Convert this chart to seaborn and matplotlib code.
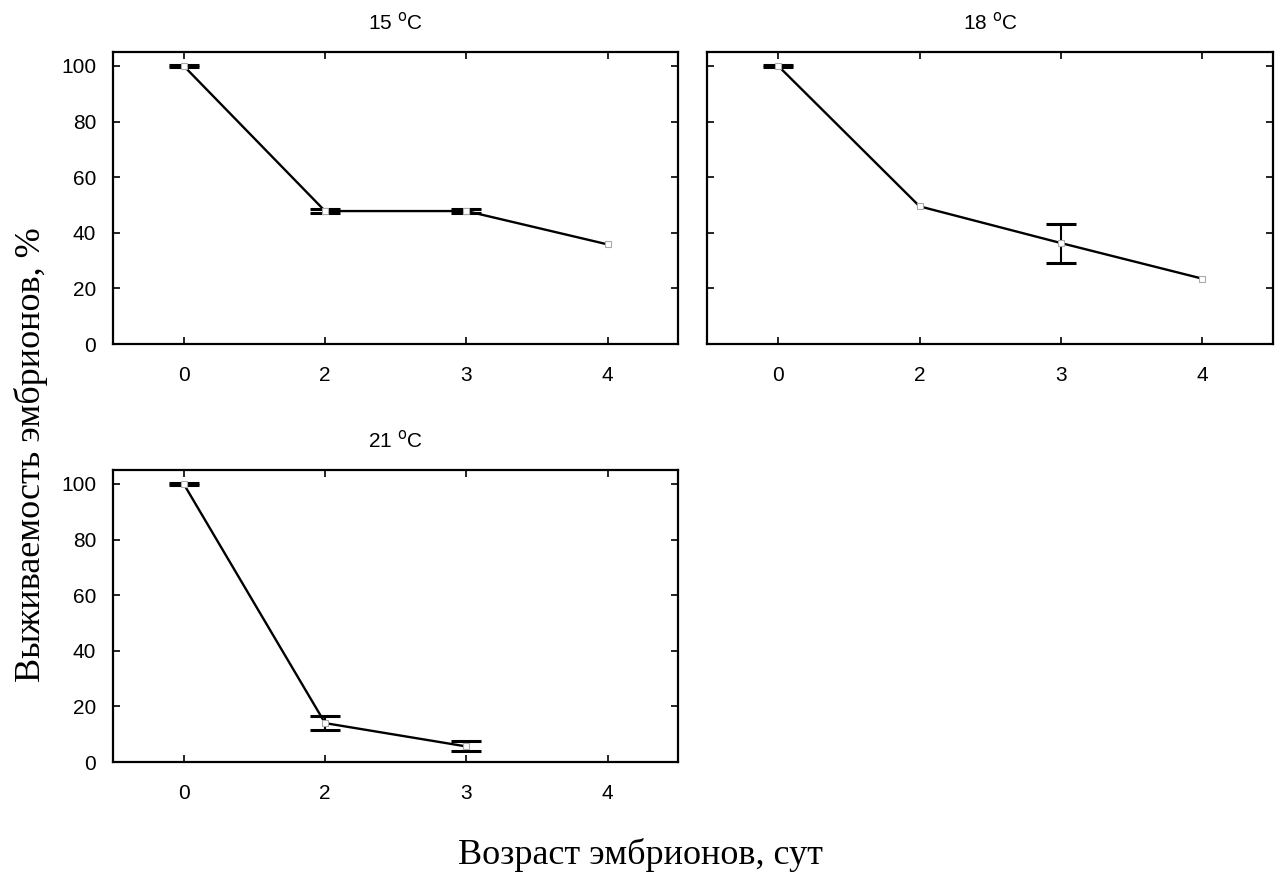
import numpy as np
import pandas as pd
import matplotlib
matplotlib.use("Agg")
import matplotlib.pyplot as plt
import seaborn as sns

# ---- data ----
days = ["0", "2", "3", "4"]
titles = ["15 $^{\\rm o}$C", "18 $^{\\rm o}$C", "21 $^{\\rm o}$C"]
surv_15 = [100.0, 47.8, 47.8, 35.8]
err_15 = [0.3, 0.8, 0.8, np.nan]
surv_18 = [100.0, 49.5, 36.3, 23.5]
err_18 = [0.3, np.nan, 7.0, np.nan]
surv_21 = [100.0, 14.0, 5.6, np.nan]
err_21 = [0.3, 2.4, 1.8, np.nan]
y_ticks = [0, 20, 40, 60, 80, 100]
ylabel = "Выживаемость эмбрионов, %"
xlabel = "Возраст эмбрионов, сут"

sns.set_theme(style="white")
plt.rcParams['font.family'] = ['Liberation Sans', 'DejaVu Sans']

fig, axes = plt.subplots(2, 2, figsize=(12.8, 8.75), dpi=100)
fig.subplots_adjust(left=0.0883, right=0.9945, top=0.9406, bottom=0.1291,
                    wspace=0.0513, hspace=0.4315)
axes[1, 1].remove()
panel_axes = [axes[0, 0], axes[0, 1], axes[1, 0]]
series = [(surv_15, err_15), (surv_18, err_18), (surv_21, err_21)]

for i, (ax, (vals, errs), title) in enumerate(zip(panel_axes, series, titles)):
    df = pd.DataFrame({"day": days, "surv": vals, "err": errs})
    d = df.dropna(subset=["surv"])
    sns.lineplot(data=d, x="day", y="surv", ax=ax, color="black",
                 linewidth=1.7, sort=False, errorbar=None)
    de = df.dropna()
    pos_e = [days.index(v) for v in de["day"]]
    ax.errorbar(pos_e, de["surv"], yerr=de["err"], fmt="none", ecolor="black",
                elinewidth=1.5, capsize=11, capthick=2.2)
    pos = [days.index(v) for v in d["day"]]
    ax.plot(pos, d["surv"], linestyle="none", marker="s", markersize=4,
            markerfacecolor="white", markeredgecolor="#aaaaaa", markeredgewidth=0.8)
    ax.set_xlim(-0.5, 3.5)
    ax.set_ylim(0, 105)
    ax.set_xticks(range(len(days)))
    ax.set_xticklabels(days)
    ax.set_yticks(y_ticks)
    ax.set_xlabel("")
    ax.set_ylabel("")
    ax.tick_params(direction="in", length=5, width=1.2, top=True, right=True,
                   left=True, bottom=True, labelsize=15, colors="black")
    ax.tick_params(axis="x", pad=16)
    ax.tick_params(axis="y", pad=12)
    if i == 1:
        ax.set_yticklabels([])
    for s in ax.spines.values():
        s.set_color("black")
        s.set_linewidth(1.6)
    ax.set_title(title, fontsize=15, pad=16, color="black")

fig.text(0.024, 0.48, ylabel, rotation=90, ha="center", va="center",
         fontsize=26, family="Liberation Serif", color="black")
fig.text(0.5, 0.023, xlabel, ha="center", va="center",
         fontsize=26, family="Liberation Serif", color="black")

fig.savefig("out.png", dpi=100, facecolor="white")
